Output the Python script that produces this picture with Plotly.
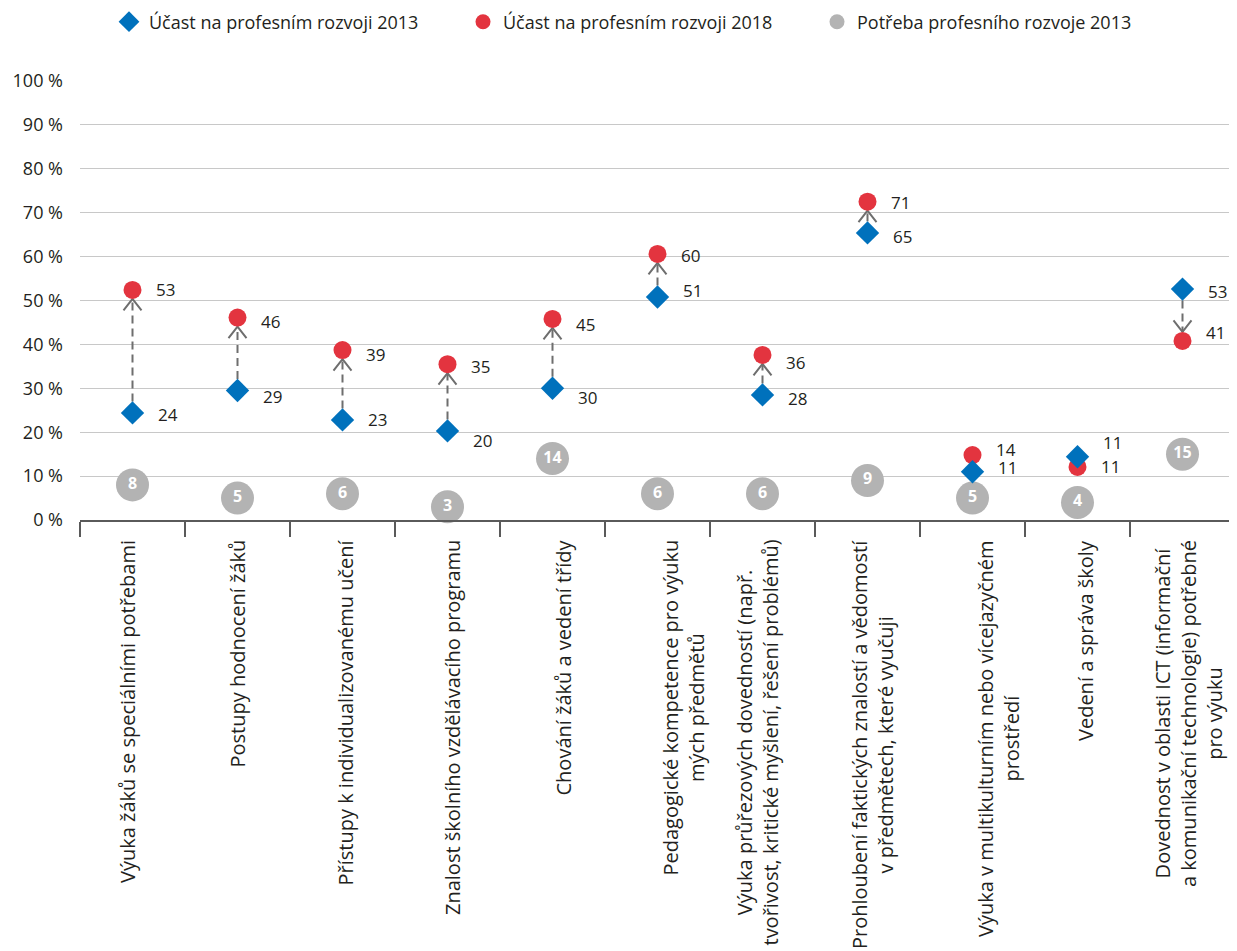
import plotly.graph_objects as go

# ---------------- data ----------------
categories = [
    "Výuka žáků se speciálními potřebami",
    "Postupy hodnocení žáků",
    "Přístupy k individualizovanému učení",
    "Znalost školního vzdělávacího programu",
    "Chování žáků a vedení třídy",
    "Pedagogické kompetence pro výuku<br>mých předmětů",
    "Výuka průřezových dovedností (např.<br>tvořivost, kritické myšlení, řešení problémů)",
    "Prohloubení faktických znalostí a vědomostí<br>v předmětech, které vyučuji",
    "Výuka v multikulturním nebo vícejazyčném<br>prostředí",
    "Vedení a správa školy",
    "Dovednost v oblasti ICT (informační<br>a komunikační technologie) potřebné<br>pro výuku",
]
# marker values (%)
ucast_2013 = [24.4, 29.5, 22.8, 20.3, 30.0, 50.8, 28.5, 65.4, 11.0, 14.4, 52.6]
ucast_2018 = [52.4, 46.1, 38.7, 35.5, 45.8, 60.6, 37.6, 72.5, 14.8, 12.1, 40.8]
# printed data labels
labels_2013 = ["24", "29", "23", "20", "30", "51", "28", "65", "11", "11", "53"]
labels_2018 = ["53", "46", "39", "35", "45", "60", "36", "71", "14", "11", "41"]
potreba_2013 = [8, 5, 6, 3, 14, 6, 6, 9, 5, 4, 15]
arrow_shown = [True, True, True, True, True, True, True, True, False, False, True]

series_names = ["Účast na profesním rozvoji 2013",
                "Účast na profesním rozvoji 2018",
                "Potřeba profesního rozvoje 2013"]

# ---------------- style ----------------
BLUE = "#0071bc"
RED = "#e3343f"
GREY = "#b3b3b3"
ARROW = "#6e6e6e"
TXT = "#231f20"
FONT = "Open Sans"

PAGE_OFF = 8                     # default body margin of the html page
W, H = 1237 - PAGE_OFF, 951 - PAGE_OFF
ML, MR, MT, MB = 80 - PAGE_OFF, 2, 81 - PAGE_OFF, 431
plot_w = W - ML - MR
plot_h = H - MT - MB
n = len(categories)
px_x = plot_w / n          # px per x unit
px_y = plot_h / 100.0      # px per y unit

# pixel tweaks for label placement
lab_shift_2013 = [2, 6, 0, 10, 9, -6, 4, 4, -4, -14, 2]   # px downward
lab_shift_2018 = [0, 4, 4, 2, 6, 2, 8, 1, -6, 0, -8]
cat_xshift = [-5, -1, 2, 5, 10, 25, -6, 5, 26, 8, 6]

xs = list(range(n))

# arrows (dashed shaft + open chevron)
shaft_x, shaft_y, chev_x, chev_y = [], [], [], []
off13 = 11.5 / px_y
off18 = 9.0 / px_y
hw = 9.0 / px_x
ch = 11.5 / px_y
for i in xs:
    if not arrow_shown[i]:
        continue
    a, b = ucast_2013[i], ucast_2018[i]
    d = 1 if b > a else -1
    y0 = a + d * off13
    tip = b - d * off18
    shaft_x += [i, i, None]
    shaft_y += [y0, tip, None]
    chev_x += [i - hw, i, i + hw, None]
    chev_y += [tip - d * ch, tip, tip - d * ch, None]

fig = go.Figure()
fig.add_trace(go.Scatter(x=shaft_x, y=shaft_y, mode="lines",
                         line=dict(color=ARROW, width=2, dash="8px,5px"),
                         showlegend=False, hoverinfo="skip", cliponaxis=False))
fig.add_trace(go.Scatter(x=chev_x, y=chev_y, mode="lines",
                         line=dict(color=ARROW, width=2),
                         showlegend=False, hoverinfo="skip", cliponaxis=False))
fig.add_trace(go.Scatter(x=xs, y=potreba_2013, mode="markers+text",
                         marker=dict(symbol="circle", size=33, color=GREY),
                         text=[str(v) for v in potreba_2013], textposition="middle center",
                         textfont=dict(family=FONT, size=16, color="white", weight="bold"),
                         showlegend=False, cliponaxis=False))
fig.add_trace(go.Scatter(x=xs, y=ucast_2018, mode="markers",
                         marker=dict(symbol="circle", size=18, color=RED),
                         showlegend=False, cliponaxis=False))
fig.add_trace(go.Scatter(x=xs, y=ucast_2013, mode="markers",
                         marker=dict(symbol="diamond", size=18, color=BLUE),
                         showlegend=False, cliponaxis=False))

# legend-only traces
fig.add_trace(go.Scatter(x=[None], y=[None], mode="markers", name=series_names[0],
                         marker=dict(symbol="diamond", size=16, color=BLUE)))
fig.add_trace(go.Scatter(x=[None], y=[None], mode="markers", name=series_names[1],
                         marker=dict(symbol="circle", size=15, color=RED)))
fig.add_trace(go.Scatter(x=[None], y=[None], mode="markers", name=series_names[2],
                         marker=dict(symbol="circle", size=15, color=GREY)))

annotations = []
for i in xs:
    annotations.append(dict(x=i, y=ucast_2013[i], xref="x", yref="y", text=labels_2013[i],
                            showarrow=False, xanchor="left", yanchor="middle",
                            xshift=23, yshift=-lab_shift_2013[i],
                            font=dict(family=FONT, size=17, color=TXT)))
    annotations.append(dict(x=i, y=ucast_2018[i], xref="x", yref="y", text=labels_2018[i],
                            showarrow=False, xanchor="left", yanchor="middle",
                            xshift=21, yshift=-lab_shift_2018[i],
                            font=dict(family=FONT, size=17, color=TXT)))
    annotations.append(dict(x=i, y=0, xref="x", yref="paper", text=categories[i],
                            showarrow=False, textangle=-90, xanchor="center", yanchor="top",
                            align="center", xshift=cat_xshift[i], yshift=-18,
                            font=dict(family=FONT, size=20, color=TXT)))

fig.update_layout(
    width=W, height=H,
    margin=dict(l=ML, r=MR, t=MT, b=MB),
    paper_bgcolor="white", plot_bgcolor="white",
    font=dict(family=FONT, color=TXT),
    showlegend=True,
    legend=dict(orientation="h", xref="container", yref="container",
                x=(109 - PAGE_OFF) / W, xanchor="left",
                y=1 - (22 - PAGE_OFF) / H, yanchor="middle",
                font=dict(family=FONT, size=18, color=TXT),
                entrywidth=309, entrywidthmode="pixels",
                bgcolor="rgba(0,0,0,0)"),
    xaxis=dict(range=[-0.5, n - 0.5], tickvals=[i - 0.5 for i in range(n + 1)],
               ticks="outside", ticklen=15, tickwidth=1.5, tickcolor="#5a5a5a",
               showticklabels=False, showline=True, linecolor="#5a5a5a", linewidth=1.5,
               showgrid=False, zeroline=False, fixedrange=True),
    yaxis=dict(range=[0, 100], dtick=10, ticksuffix=" %", ticks="",
               ticklabelstandoff=16,
               tickfont=dict(family=FONT, size=18, color=TXT),
               showgrid=True, gridcolor="#c8c8c8", gridwidth=1.3,
               showline=False, zeroline=False, fixedrange=True),
    annotations=annotations,
)

fig.write_html("out.html")
